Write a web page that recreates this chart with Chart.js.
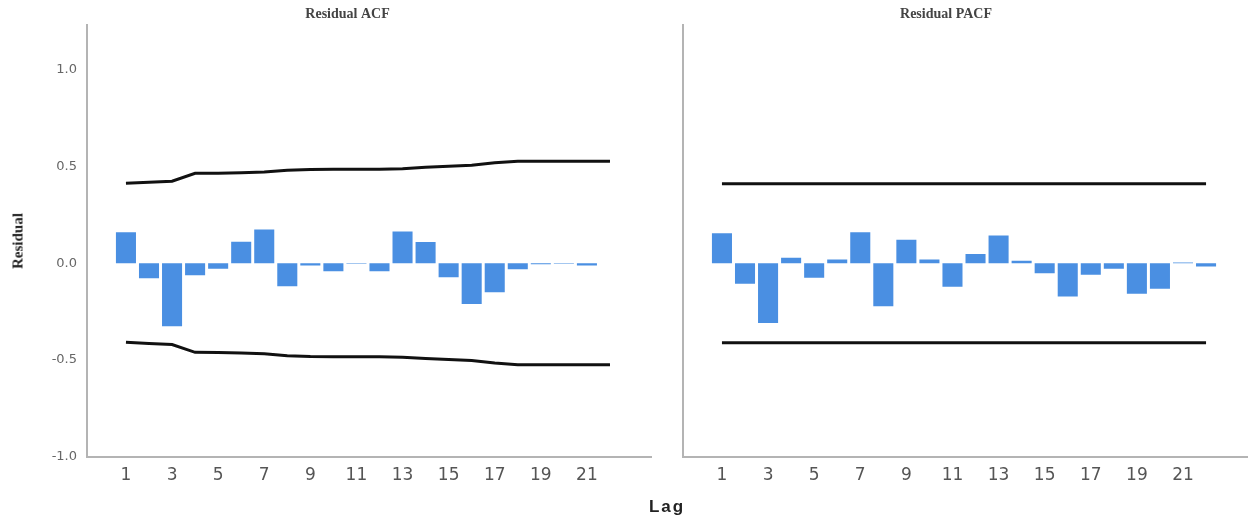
<!DOCTYPE html>
<html>
<head>
<meta charset="utf-8">
<script src="https://cdn.jsdelivr.net/npm/chart.js@4/dist/chart.umd.min.js"></script>
<style>
  body { margin: 0; background: #fff; }
  #wrap { position: relative; width: 1248px; height: 518px; overflow: hidden; }
  #acfChart { position: absolute; left: 0; top: 0; }
  #pacfChart { position: absolute; left: 640px; top: 0; }
  .ytitle {
    position: absolute; left: 18px; top: 241px;
    transform: translate(-50%, -50%) rotate(-90deg);
    font: bold 15px "Liberation Serif", serif; color: #222; white-space: nowrap;
  }
  .xtitle {
    position: absolute; left: 667px; top: 507px;
    transform: translate(-50%, -50%);
    font: bold 17px "Liberation Sans", sans-serif; letter-spacing: 2px; color: #222;
  }
</style>
</head>
<body>
<div id="wrap">
  <canvas id="acfChart" width="665" height="518"></canvas>
  <canvas id="pacfChart" width="608" height="518"></canvas>
  <div class="ytitle">Residual</div>
  <div class="xtitle">Lag</div>
</div>
<script>
const lags = [1, 2, 3, 4, 5, 6, 7, 8, 9, 10, 11, 12, 13, 14, 15, 16, 17, 18, 19, 20, 21, 22];
const lagTicks = [1, 3, 5, 7, 9, 11, 13, 15, 17, 19, 21];
const yTicks = [-1.0, -0.5, 0.0, 0.5, 1.0];

const acfValues = [0.16, -0.078, -0.325, -0.062, -0.029, 0.11, 0.174, -0.119, -0.012, -0.041, -0.003,
  -0.041, 0.164, 0.109, -0.072, -0.21, -0.15, -0.031, -0.005, -0.003, -0.012, 0];
const acfUpper = [0.412, 0.417, 0.423, 0.464, 0.464, 0.467, 0.47, 0.479, 0.484, 0.485, 0.485,
  0.485, 0.487, 0.495, 0.5, 0.505, 0.518, 0.526, 0.526, 0.526, 0.526, 0.526];
const acfLower = [-0.408, -0.414, -0.42, -0.46, -0.461, -0.463, -0.467, -0.477, -0.482, -0.483, -0.483,
  -0.483, -0.485, -0.492, -0.497, -0.502, -0.515, -0.524, -0.524, -0.524, -0.524, -0.524];

const pacfValues = [0.155, -0.106, -0.308, 0.028, -0.075, 0.019, 0.16, -0.222, 0.121, 0.019, -0.122,
  0.048, 0.143, 0.012, -0.052, -0.172, -0.06, -0.029, -0.158, -0.132, 0.004, -0.017];
const pacfUpper = [0.41, 0.41, 0.41, 0.41, 0.41, 0.41, 0.41, 0.41, 0.41, 0.41, 0.41,
  0.41, 0.41, 0.41, 0.41, 0.41, 0.41, 0.41, 0.41, 0.41, 0.41, 0.41];
const pacfLower = [-0.411, -0.411, -0.411, -0.411, -0.411, -0.411, -0.411, -0.411, -0.411, -0.411, -0.411,
  -0.411, -0.411, -0.411, -0.411, -0.411, -0.411, -0.411, -0.411, -0.411, -0.411, -0.411];

const pts = (vals) => lags.map((l, i) => ({ x: l, y: vals[i] }));

function makeChart(canvasId, title, vals, upper, lower, opts) {
  const limitLine = (data) => ({
    type: "line",
    data: pts(data),
    borderColor: "#111",
    borderWidth: 3,
    pointRadius: 0,
    tension: 0,
    fill: false,
  });

  return new Chart(document.getElementById(canvasId), {
    type: "bar",
    data: {
      datasets: [
        {
          data: pts(vals),
          backgroundColor: "#4a8fe2",
          borderWidth: 0,
          barPercentage: 0.87,
          categoryPercentage: 1,
        },
        limitLine(upper),
        limitLine(lower),
      ],
    },
    options: {
      responsive: false,
      animation: false,
      layout: { padding: { left: opts.padLeft, right: opts.padRight, top: 0, bottom: 0 } },
      plugins: {
        legend: { display: false },
        tooltip: { enabled: false },
        title: {
          display: true,
          text: title,
          color: "#444",
          font: { family: "Liberation Serif", size: 14, weight: "bold" },
          padding: { top: 6, bottom: 2 },
        },
      },
      scales: {
        x: {
          type: "linear",
          offset: false,
          min: -0.69,
          max: opts.xMax,
          grid: { display: false, drawTicks: false },
          border: { display: true, color: "#b4b4b4", width: 2 },
          afterBuildTicks: (axis) => { axis.ticks = lagTicks.map((v) => ({ value: v })); },
          afterFit: (axis) => { axis.height = 61; },
          ticks: {
            autoSkip: false,
            maxRotation: 0,
            padding: 8,
            color: "#555",
            font: { family: "DejaVu Sans", size: 17 },
            callback: (v) => v,
          },
        },
        y: {
          min: -1.0,
          max: 1.23,
          grid: { display: false, drawTicks: false },
          border: { display: true, color: "#b4b4b4", width: 2 },
          afterBuildTicks: (axis) => { axis.ticks = yTicks.map((v) => ({ value: v })); },
          afterFit: (axis) => { axis.width = opts.yWidth; },
          ticks: {
            display: opts.showY,
            padding: 10,
            color: "#666",
            font: { family: "DejaVu Sans", size: 13 },
            callback: (v) => Number(v).toFixed(1),
          },
        },
      },
    },
  });
}

makeChart("acfChart", "Residual ACF", acfValues, acfUpper, acfLower,
  { padLeft: 44, padRight: 14, yWidth: 43, xMax: 23.78, showY: true });
makeChart("pacfChart", "Residual PACF", pacfValues, pacfUpper, pacfLower,
  { padLeft: 4, padRight: 0, yWidth: 39, xMax: 23.82, showY: false });
</script>
</body>
</html>
